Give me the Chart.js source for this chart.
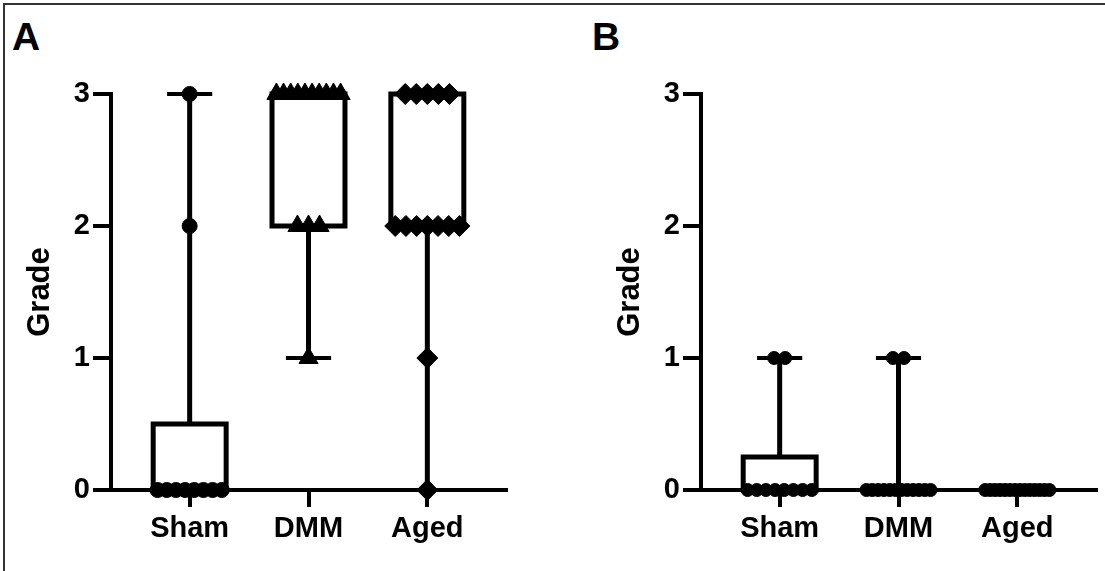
<!DOCTYPE html>
<html>
<head>
<meta charset="utf-8">
<script src="https://cdn.jsdelivr.net/npm/chart.js@4/dist/chart.umd.min.js"></script>
<style>
  body { margin: 0; background: #fff; }
  #wrap { position: relative; width: 1105px; height: 571px; overflow: hidden; }
  #frame { position: absolute; left: 3px; top: 3px; width: 1102px; height: 568px;
           border-top: 2px solid #333; border-left: 2px solid #333; }
  .letter { position: absolute; top: 17px; font: bold 39px "Liberation Sans", Arial, sans-serif; line-height: 39px; }
  canvas { position: absolute; top: 0; }
</style>
</head>
<body>
<div id="wrap">
  <div id="frame"></div>
  <div class="letter" style="left:12px">A</div>
  <div class="letter" style="left:592px">B</div>
  <canvas id="chartA" width="552" height="571" style="left:0"></canvas>
  <canvas id="chartB" width="553" height="571" style="left:552px"></canvas>
</div>
<script>
const groups = ['Sham', 'DMM', 'Aged']
const gradeTicks = [0, 1, 2, 3]

// panel A, individual grades
const shamA = [3, 2, 0, 0, 0, 0, 0, 0, 0, 0]
const dmmA = [3, 3, 3, 3, 3, 3, 3, 3, 3, 3, 2, 2, 2, 1]
const agedA = [3, 3, 3, 3, 3, 2, 2, 2, 2, 2, 2, 2, 1, 0]
// panel A box stats
const minA = [0, 1, 0]
const q1A = [0, 2, 2]
const medA = [0, 3, 2]
const q3A = [0.5, 3, 3]
const maxA = [3, 3, 3]

// panel B, individual grades
const shamB = [1, 1, 0, 0, 0, 0, 0, 0, 0, 0]
const dmmB = [1, 1, 0, 0, 0, 0, 0, 0, 0, 0, 0, 0, 0, 0]
const agedB = [0, 0, 0, 0, 0, 0, 0, 0, 0, 0, 0, 0, 0, 0]
// panel B box stats
const minB = [0, 0, 0]
const q1B = [0, 0, 0]
const medB = [0, 0, 0]
const q3B = [0.25, 0, 0]
const maxB = [1, 1, 0]

const FONT = '"Liberation Sans", Arial, sans-serif'

// spread equal values side by side, like a column scatter
function spread(values, pos, step, maxWidth) {
    let counts = {}
    values.forEach(v => counts[v] = (counts[v] || 0) + 1)
    let seen = {}
    return values.map(v => {
        let k = counts[v]
        let s = k > 1 ? Math.min(step, maxWidth / (k - 1)) : 0
        let j = seen[v] = (seen[v] === undefined ? 0 : seen[v] + 1)
        return {x: pos + (j - (k - 1) / 2) * s, y: v}
    })
}

const boxPlugin = {
    id: 'boxWhisker',
    beforeDatasetsDraw(chart, args, o) {
        const ctx = chart.ctx
        const xs = chart.scales.x, ys = chart.scales.y
        ctx.save()
        ctx.strokeStyle = '#000'
        ctx.lineCap = 'butt'
        for (let i = 0; i < o.min.length; i++) {
            let x = xs.getPixelForValue(i)
            let half = xs.getPixelForValue(i + 0.307) - x
            let cap = xs.getPixelForValue(i + 0.19) - x
            let yMin = ys.getPixelForValue(o.min[i]), yMax = ys.getPixelForValue(o.max[i])
            let yQ1 = ys.getPixelForValue(o.q1[i]), yQ3 = ys.getPixelForValue(o.q3[i])
            let yMed = ys.getPixelForValue(o.med[i])
            ctx.lineWidth = 5
            ctx.beginPath(); ctx.moveTo(x, yMin); ctx.lineTo(x, yMax); ctx.stroke()
            ctx.lineWidth = 4
            ctx.beginPath()
            ctx.moveTo(x - cap, yMin); ctx.lineTo(x + cap, yMin)
            ctx.moveTo(x - cap, yMax); ctx.lineTo(x + cap, yMax)
            ctx.stroke()
            ctx.lineWidth = 5
            ctx.fillStyle = '#fff'
            ctx.fillRect(x - half, yQ3, 2 * half, yQ1 - yQ3)
            ctx.strokeRect(x - half, yQ3, 2 * half, yQ1 - yQ3)
            ctx.beginPath(); ctx.moveTo(x - half, yMed); ctx.lineTo(x + half, yMed); ctx.stroke()
        }
        ctx.restore()
    }
}

function makeChart(id, sets, styles, radii, stats, yWidth, rightPad, titlePad) {
    let datasets = sets.map((vals, i) => ({
        data: spread(vals, i, 0.093, 0.54),
        pointStyle: styles[i],
        pointRadius: radii[i],
        pointHoverRadius: radii[i],
        backgroundColor: '#000',
        borderColor: '#000',
        borderWidth: 1,
        clip: false
    }))
    let axisGrid = len => ({display: true, drawOnChartArea: false, drawTicks: true, tickLength: len, lineWidth: 4, color: '#000'})
    return new Chart(document.getElementById(id), {
        type: 'scatter',
        data: {datasets: datasets},
        plugins: [boxPlugin],
        options: {
            responsive: false,
            animation: false,
            devicePixelRatio: 1,
            layout: {padding: {top: 94, right: rightPad, bottom: 0, left: 0}},
            plugins: {legend: {display: false}, tooltip: {enabled: false}, boxWhisker: stats},
            scales: {
                x: {
                    type: 'linear', min: -0.662, max: 2.662,
                    afterBuildTicks: s => { s.ticks = groups.map((g, i) => ({value: i})) },
                    afterFit: s => { s.height = 81 },
                    ticks: {callback: v => groups[v], color: '#000', padding: 5, maxRotation: 0, autoSkip: false,
                            font: {family: FONT, size: 29, weight: 'bold'}},
                    grid: axisGrid(17),
                    border: {display: true, width: 4, color: '#000'}
                },
                y: {
                    type: 'linear', min: 0, max: 3,
                    afterBuildTicks: s => { s.ticks = gradeTicks.map(v => ({value: v})) },
                    afterFit: s => { s.width = yWidth },
                    ticks: {color: '#000', padding: 3, font: {family: FONT, size: 29, weight: 'bold'}},
                    grid: axisGrid(18),
                    border: {display: true, width: 4, color: '#000'},
                    title: {display: true, text: 'Grade', color: '#000', padding: {top: titlePad, bottom: 0},
                            font: {family: FONT, size: 31, weight: 'bold'}}
                }
            }
        }
    })
}

makeChart('chartA', [shamA, dmmA, agedA], ['circle', 'triangle', 'rectRot'], [7.5, 11, 10.5],
    {min: minA, q1: q1A, med: medA, q3: q3A, max: maxA}, 111, 46, 22)
makeChart('chartB', [shamB, dmmB, agedB], ['circle', 'circle', 'circle'], [6.5, 6.5, 6.5],
    {min: minB, q1: q1B, med: medB, q3: q3B, max: maxB}, 149, 9, 60)
</script>
</body>
</html>
